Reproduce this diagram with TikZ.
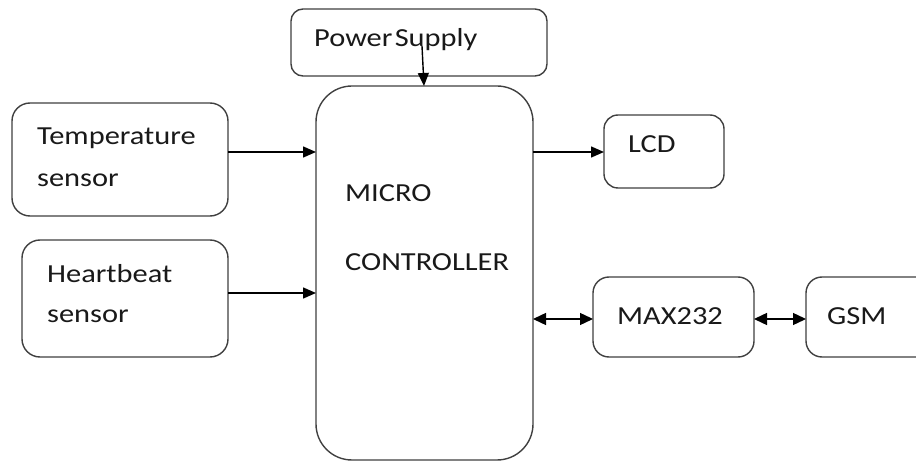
\documentclass[tikz,border=0pt]{standalone}
\usepackage{fontspec}
\setmainfont{Carlito}
\usetikzlibrary{arrows.meta}
\newcommand{\widetxt}[1]{\scalebox{1.17}[1]{#1}}
\begin{document}
\begin{tikzpicture}[x=1pt,y=-1pt,
  blk/.style={draw=black!75,line width=1.4pt,rounded corners=#1,inner sep=0pt},
  blk/.default=14pt,
  lbl/.style={anchor=base west,inner sep=0pt,text=black!90,font=\fontsize{26}{28}\selectfont},
  arr/.style={line width=1.4pt,-{Triangle[length=13pt,width=11pt]}},
  barr/.style={line width=1.4pt,{Triangle[length=13pt,width=12pt]}-{Triangle[length=13pt,width=12pt]}}]
\useasboundingbox (0,0) rectangle (916,462);
\fill[white] (0,0) rectangle (916,462);
% boxes
\path[blk=12pt] (291,9) rectangle (547,76) node[pos=0.5,inner sep=0pt] (ps) {};
\path[blk=36pt] (316,86) rectangle (533,460) node[pos=0.5,inner sep=0pt] (mc) {};
\path[blk=18pt] (12,103) rectangle (228,216) node[pos=0.5,inner sep=0pt] (temp) {};
\path[blk=18pt] (22,240) rectangle (228,357) node[pos=0.5,inner sep=0pt] (hb) {};
\path[blk=14pt] (604,115) rectangle (724,188) node[pos=0.5,inner sep=0pt] (lcd) {};
\path[blk=16pt] (593,277) rectangle (754,357) node[pos=0.5,inner sep=0pt] (max) {};
\path[blk=16pt] (806,277) rectangle (935,357) node[pos=0.5,inner sep=0pt] (gsm) {};
% named edge coordinates
\coordinate (psout) at (422,46);
\coordinate (mctop) at (424,86);
\coordinate (tempE) at (228,152);
\coordinate (mcTw) at (316,152);
\coordinate (hbE) at (228,293);
\coordinate (mcHw) at (316,293);
\coordinate (mcLe) at (533,152);
\coordinate (lcdW) at (604,152);
\coordinate (mcMe) at (533,319);
\coordinate (maxW) at (593,319);
\coordinate (maxE) at (754,319);
\coordinate (gsmW) at (806,319);
% labels
\node[lbl] (tps) at (314,47) {\widetxt{Power\hspace{-0.15em} Supply}};
\node[lbl] (tmc1) at (345,202) {\widetxt{MICRO}};
\node[lbl] (tmc2) at (345,271) {\widetxt{CONTROLLER}};
\node[lbl] (tt1) at (37,145) {\widetxt{Temperature}};
\node[lbl] (tt2) at (37,187) {\widetxt{sensor}};
\node[lbl] (th1) at (47,283) {\widetxt{Heartbeat}};
\node[lbl] (th2) at (47,323) {\widetxt{sensor}};
\node[lbl] (tl) at (628,153) {\widetxt{LCD}};
\node[lbl] (tm) at (617,325) {\widetxt{MAX232}};
\node[lbl] (tg) at (827,325) {\widetxt{GSM}};
% connectors
\draw[arr] (psout) -- (mctop);
\draw[arr] (tempE) -- (mcTw);
\draw[arr] (hbE) -- (mcHw);
\draw[arr] (mcLe) -- (lcdW);
\draw[barr] (mcMe) -- (maxW);
\draw[barr] (maxE) -- (gsmW);
\end{tikzpicture}
\end{document}
